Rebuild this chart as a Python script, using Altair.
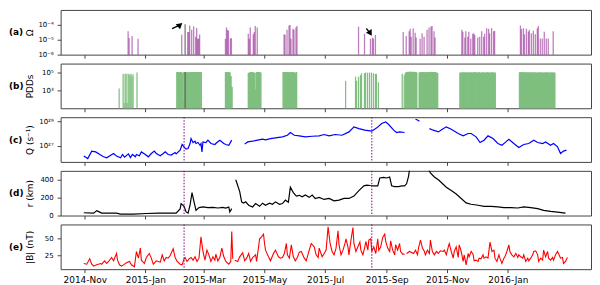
import altair as alt
import pandas as pd

BASE = pd.Timestamp("2014-11-01")   # day 0 of all day offsets below

# ---------------- data (day offset from 2014-11-01, value) ----------------
# (a) Omega
omega = [(43, 3.7e-5), (44, 1.3e-5), (47, 1.8e-5), (53, 1.15e-5),
         (97, 2.2e-5), (103, 3.3e-5), (104, 3.3e-5), (105, 9e-5), (107, 4.6e-5), (109, 7.6e-5),
         (111, 1.6e-5), (112, 6.2e-5), (113, 1.15e-5), (114, 1.2e-5), (115, 2.2e-5),
         (141, 1.15e-5), (142, 6.7e-5), (143, 4.6e-5), (144, 4.2e-5), (146, 1.2e-5), (147, 1.3e-5),
         (164, 2.5e-5), (165, 1.15e-5), (166, 6.7e-5), (169, 2.3e-5), (170, 3.3e-5), (171, 8.2e-5), (173, 6.7e-5),
         (200, 2.3e-5), (201, 2.2e-5), (203, 4.6e-5), (205, 9e-5), (206, 9.6e-5), (207, 1.15e-5),
         (209, 5.5e-5), (210, 4.6e-5), (212, 6.7e-5), (213, 8.2e-5),
         (275, 7.6e-5), (281, 2.5e-5), (287, 1.15e-5), (289, 1.4e-5), (290, 1.2e-5), (292, 2.1e-5),
         (320, 3.3e-5), (323, 1.8e-5), (326, 3.7e-5), (327, 5.5e-5), (328, 1.6e-5), (330, 6e-5),
         (332, 3e-5), (333, 1.4e-5), (337, 1.15e-5), (339, 2.7e-5), (341, 1.6e-5), (344, 4.6e-5),
         (346, 6.7e-5), (348, 7.6e-5), (349, 8.2e-5), (351, 3.7e-5), (352, 1.4e-5),
         (379, 4.6e-5), (380, 3.5e-5), (382, 1.4e-5), (383, 3.7e-5), (385, 1.6e-5), (386, 3.5e-5),
         (388, 1.2e-5), (390, 2.5e-5), (391, 2.7e-5), (392, 2.1e-5), (395, 1.4e-5), (397, 1.6e-5),
         (399, 3.7e-5), (401, 1.6e-5), (402, 2.5e-5), (404, 6e-5), (406, 5.5e-5), (407, 2.7e-5),
         (409, 6e-5), (411, 3.7e-5), (412, 4e-5),
         (438, 9e-5), (439, 5.2e-5), (441, 6e-5), (442, 2.3e-5), (444, 5.5e-5), (446, 3.5e-5),
         (447, 4.6e-5), (449, 2.7e-5), (451, 4e-5), (453, 2.3e-5), (455, 6e-5), (456, 8.2e-5),
         (458, 1.2e-5), (460, 1.2e-5), (462, 3.5e-5), (464, 1.2e-5), (466, 1.2e-5), (471, 3.7e-5)]

# (b) PDDs, log10 values
pdd_single = [(34, 3.2), (38, 4.85), (39, 1.6), (40, 4.85), (41, 4.85), (42, 1.6), (43, 4.85),
              (44, 4.8), (45, 4.7), (46, 4.85), (47, 4.55), (48, 4.8), (52, 5.0),
              (262, 4.07), (272, 4.54), (273, 4.07), (275, 4.54), (277, 4.7), (278, 4.92),
              (281, 4.92), (282, 4.99), (284, 4.99), (286, 4.99), (288, 4.99), (290, 4.92),
              (292, 4.85), (293, 4.85), (295, 3.9), (319, 4.85), (321, 4.7)]
pdd_blocks = [
    (92, [5.05, 5.05, 4.98, 5.05, 5.05, 4.98, 1.9, 5.05, 5.05, 5.05, 4.9, 5.05, 4.95,
          5.05, 5.0, 5.05, 5.05, 5.0, 5.05, 5.05, 5.05, 5.0, 5.05, 5.05, 5.05]),
    (141, [5.05, 5.05, 5.0, 5.05, 5.0, 4.6, 3.4]),
    (164, [4.95, 5.0, 5.05, 5.05, 5.05, 5.0, 4.95, 3.1, 5.05, 5.05, 5.05, 5.05, 5.0]),
    (199, [5.05, 5.05, 5.03, 5.05, 5.05, 5.05, 5.02, 5.05, 5.05, 5.05, 5.05, 5.0, 4.9, 5.05]),
    (322, [4.95, 5.05, 5.08, 5.05, 5.08, 5.1, 5.05, 5.08, 5.05, 5.08, 5.05, 5.02]),
    (336, [5.0, 5.05, 5.03, 5.05, 5.05, 5.02, 5.05, 5.0, 5.05, 5.05, 5.03, 5.05, 5.08,
           5.05, 5.03, 5.05, 5.05, 5.0, 4.95]),
    (377, [5.0, 4.97, 5.02, 5.0, 5.03, 4.98, 5.0, 5.02, 4.97, 5.0, 5.03, 5.0, 4.98, 5.02,
           5.0, 5.04, 5.0, 4.98, 5.0, 5.02, 5.0, 4.97, 5.0, 5.02, 5.0, 5.0, 4.98, 5.02,
           5.0, 5.0, 4.97, 5.0, 5.02, 5.0, 4.98, 5.0]),
    (437, [5.03, 5.05, 5.02, 5.03, 5.0, 5.03, 5.02, 5.0, 5.03, 5.02, 5.0, 5.0, 5.02, 5.0,
           5.0, 5.02, 5.0, 4.98, 5.0, 5.0, 5.02, 5.0, 5.0, 4.98, 5.0, 5.0, 5.0, 5.02,
           5.0, 4.98, 5.0, 5.0, 5.0, 5.0, 4.98, 5.0]),
]

# (c) Q, log10 values, segments
q_segments = [
    [(-1, 26.17), (3, 25.97), (7, 26.57), (11, 26.51), (16, 26.25), (19, 26.11), (22, 26.03),
     (29, 26.38), (32, 26.17), (36, 26.03), (38, 26.30), (40, 26.08), (44, 26.35), (46, 26.05),
     (48, 26.30), (51, 26.11), (52, 26.30), (55, 26.19), (57, 26.51), (61, 26.30), (64, 26.11),
     (67, 26.38), (70, 26.57), (72, 26.38), (76, 26.19), (79, 26.38), (81, 26.51), (84, 26.30),
     (87, 26.25), (91, 26.46), (92, 26.35), (96, 26.65), (98, 27.11), (100, 26.92), (102, 26.73),
     (104, 26.78), (106, 27.19), (107, 27.59), (109, 27.27), (111, 27.38), (112, 27.19),
     (114, 27.27), (116, 27.05), (117, 27.19), (118, 26.51), (119, 27.32), (122, 27.27),
     (124, 27.46), (127, 27.19), (131, 27.11), (133, 27.27), (136, 27.46), (140, 27.19),
     (142, 27.11), (145, 27.05), (148, 27.46)],
    [(161, 27.14), (164, 27.32), (169, 27.38), (174, 27.46), (179, 27.54), (182, 27.49),
     (187, 27.59), (192, 27.65), (199, 27.73), (204, 27.86), (207, 28.08), (211, 27.86),
     (216, 27.81), (222, 27.73), (229, 27.78), (236, 27.81), (241, 27.92), (246, 27.81),
     (252, 27.92), (259, 27.86), (266, 28.13), (271, 28.54), (276, 28.40), (282, 28.27),
     (289, 28.19), (294, 28.46), (299, 28.81), (303, 28.94), (306, 28.73), (311, 28.27),
     (314, 28.08), (317, 28.13), (322, 28.08)],
    [(333, 29.16), (335, 29.1), (337, 29.0)],
    [(347, 28.40), (351, 28.27), (356, 28.13), (360, 28.35), (364, 28.54), (369, 28.35),
     (376, 28.0), (381, 27.81), (386, 28.0), (389, 28.0), (394, 27.73), (398, 27.27),
     (402, 27.46), (406, 27.81), (411, 27.59), (416, 27.19), (420, 27.05), (424, 27.32),
     (427, 27.54), (432, 27.19), (437, 26.86), (442, 27.11), (447, 27.19), (452, 27.46),
     (456, 27.27), (461, 27.19), (464, 27.32), (469, 27.05), (472, 27.19), (476, 26.92),
     (479, 26.38), (482, 26.57), (485, 26.65)],
]

# (d) r (km), segments
r_segments = [
    [(-1, 31), (9, 27), (12, 55), (14, 44), (17, 27), (32, 27), (36, 16), (49, 16), (62, 23),
     (74, 27), (76, 27), (92, 27), (96, 73), (97, 134), (100, 103), (102, 40), (104, 27),
     (106, 115), (108, 256), (110, 153), (112, 57), (115, 88), (119, 96), (124, 88), (129, 92),
     (134, 84), (139, 92), (142, 84), (145, 96), (146, 40), (148, 77)],
    [(152, 400), (153, 370), (156, 267), (158, 150), (160, 140), (162, 153), (165, 115),
     (169, 96), (172, 134), (176, 103), (179, 138), (182, 115), (186, 138), (189, 126),
     (192, 153), (196, 126), (199, 134), (202, 172), (205, 150), (207, 318), (210, 256),
     (213, 218), (216, 226), (219, 210), (222, 229), (226, 203), (229, 229), (232, 191),
     (236, 203), (241, 180), (246, 191), (251, 164), (256, 172), (261, 191), (266, 191),
     (271, 218), (276, 279), (281, 332), (284, 340), (287, 336), (291, 332), (295, 332),
     (297, 420), (301, 427), (304, 420), (307, 431), (309, 332), (312, 324), (316, 324),
     (319, 332), (322, 332), (324, 355), (326, 439), (327, 515), (330, 650), (340, 700),
     (346, 520), (348, 477), (352, 431), (356, 400), (359, 370), (364, 317), (369, 279),
     (374, 240), (379, 191), (384, 141), (389, 126), (396, 115), (402, 103), (409, 103),
     (416, 96), (422, 88), (429, 88), (436, 84), (442, 96), (449, 88), (456, 77), (462, 57),
     (469, 46), (476, 38), (484, 27)],
]

# (e) |B| (nT), segments
b_segments = [
    [(-1, 13), (2, 12), (5, 20), (7, 12), (9, 9), (12, 11), (16, 13), (17, 12), (20, 17),
     (22, 13), (24, 16), (27, 22), (29, 17), (32, 28), (33, 18), (35, 11), (37, 9), (40, 12),
     (42, 14), (45, 16), (47, 11), (50, 8), (52, 31), (54, 21), (56, 36), (57, 18), (60, 13),
     (62, 22), (65, 28), (67, 21), (69, 12), (72, 17), (74, 16), (76, 15), (78, 26), (80, 17),
     (82, 22), (84, 21), (86, 25), (89, 35), (91, 22), (93, 16), (96, 12), (98, 11), (100, 20),
     (101, 22), (103, 16), (105, 20), (107, 22), (109, 18), (111, 23), (113, 16), (115, 21),
     (117, 53), (119, 31), (121, 18), (123, 33), (125, 26), (127, 16), (129, 23), (131, 18),
     (132, 27), (134, 17), (136, 22), (138, 36), (140, 23), (142, 16), (145, 12), (147, 16),
     (148, 61), (149, 20)],
    [(151, 18), (154, 16), (156, 23), (159, 29), (161, 17), (163, 21), (165, 28), (167, 16),
     (169, 22), (172, 26), (173, 16), (175, 38), (176, 50), (178, 53), (180, 57), (181, 43),
     (182, 33), (185, 23), (187, 17), (190, 28), (192, 33), (195, 23), (197, 21), (199, 22),
     (201, 28), (203, 43), (204, 26), (206, 21), (208, 41), (210, 23), (212, 17), (214, 22),
     (216, 30), (218, 31), (221, 21), (223, 17), (226, 33), (228, 43), (231, 38), (233, 26),
     (235, 22), (236, 36), (239, 23), (241, 28), (243, 33), (245, 68), (247, 43), (249, 31),
     (251, 26), (253, 36), (255, 62), (256, 41), (258, 26), (260, 33), (262, 43), (263, 50),
     (265, 38), (266, 26), (268, 48), (270, 67), (271, 43), (273, 31), (275, 38), (277, 45),
     (278, 33), (280, 26), (282, 38), (283, 46), (285, 33), (286, 48), (288, 50), (289, 31),
     (291, 38), (293, 28), (295, 50), (296, 33), (298, 38), (300, 52), (302, 57), (303, 46),
     (305, 36), (307, 31), (308, 47), (310, 33), (312, 26), (313, 41), (315, 33), (317, 43),
     (318, 31), (320, 27), (322, 27)],
    [(324, 28), (327, 31), (331, 28), (333, 33), (335, 26), (336, 36), (338, 48), (340, 36),
     (342, 31), (343, 26), (345, 33), (347, 28), (348, 48), (350, 31), (352, 26), (354, 31),
     (356, 28), (358, 32), (361, 31), (362, 33), (364, 26), (366, 38), (367, 43), (369, 31),
     (371, 21), (372, 31), (374, 38), (376, 22), (377, 41), (379, 31), (381, 16), (382, 26),
     (384, 11), (386, 28), (387, 23), (389, 31), (391, 27), (392, 17), (394, 18), (396, 16),
     (397, 21), (399, 20), (401, 26), (402, 21), (404, 23), (406, 21), (407, 33), (408, 45),
     (410, 31), (412, 33), (413, 21), (415, 16), (417, 26), (418, 21), (420, 13), (422, 21),
     (423, 23), (425, 31), (427, 41), (428, 31), (430, 26), (432, 23), (434, 28), (436, 22),
     (437, 26), (439, 23), (441, 21), (442, 26), (444, 16), (446, 21), (447, 17), (449, 21),
     (451, 26), (452, 31), (454, 32), (456, 26), (457, 16), (459, 21), (461, 18), (462, 33),
     (464, 23), (466, 31), (467, 21), (469, 18), (471, 22), (472, 18), (474, 26), (476, 31),
     (477, 28), (479, 21), (481, 22), (482, 13), (484, 16), (486, 22)],
]

# annotations
event_days = [100, 289]          # dotted vertical lines
gray_day = 101                   # gray line in (a) and (b)
arrow_tail = [(88, 5.5e-5), (283.5, 5.7e-5)]
arrow_head = [(96, 1.0e-4), (287.5, 2.7e-5)]
arrow_angle = [50, 148]

months = [(2014, 11), (2014, 12), (2015, 1), (2015, 2), (2015, 3), (2015, 4), (2015, 5),
          (2015, 6), (2015, 7), (2015, 8), (2015, 9), (2015, 10), (2015, 11), (2015, 12),
          (2016, 1), (2016, 2)]
panel_tags = ["(a)", "(b)", "(c)", "(d)", "(e)"]

# ---------------- helpers ----------------
def day_to_date(days):
    return BASE + pd.to_timedelta(list(days), unit="D")


def frame(pairs, seg=0, log=False, span=1.0):
    d = day_to_date([p[0] for p in pairs])
    v = [10 ** p[1] if log else p[1] for p in pairs]
    return pd.DataFrame({"date": d, "end": d + pd.Timedelta(days=span), "v": v, "seg": seg})


W, H = 534, 45
FONT = "DejaVu Sans"
xscale = alt.Scale(domain=[alt.DateTime(year=2014, month=10, date=7, hours=17),
                           alt.DateTime(year=2016, month=3, date=24, hours=17)])
tick_vals = [alt.DateTime(year=y, month=m, date=1) for y, m in months]


def xaxis(labels):
    if labels:
        return alt.Axis(values=tick_vals, title=None, grid=False, domain=False,
                        labelExpr="month(datum.value) % 2 == 0 ? timeFormat(datum.value, '%Y-%b') : ''",
                        labelFontSize=9, labelPadding=3, labelFlush=False, labelOverlap=False)
    return alt.Axis(values=tick_vals, title=None, grid=False, domain=False, labels=False)


def yaxis(title, values, expr=None):
    kw = dict(title=title, values=values, grid=False, domain=False, titleX=-31,
              titleBaseline="middle", titleAngle=270)
    if expr:
        kw["labelExpr"] = expr
    return alt.Axis(**kw)


def tag(i):
    return alt.Chart(pd.DataFrame({"t": [panel_tags[i]]})).mark_text(
        align="left", baseline="middle", fontWeight="bold", fontSize=9, font=FONT
    ).encode(text="t:N", x=alt.value(-52), y=alt.value(H / 2))


ev_df = pd.DataFrame({"date": day_to_date(event_days)})


def events():
    return alt.Chart(ev_df).mark_rule(color="purple", strokeDash=[1.5, 1.5], strokeWidth=1).encode(
        x=alt.X("date:T", scale=xscale))


# ---------------- (a) ----------------
a_scale = alt.Scale(type="log", domain=[1e-6, 2e-4])
df_a = frame(omega, span=1.3)
bars_a = alt.Chart(df_a).mark_bar(color="purple", opacity=0.5).encode(
    x=alt.X("date:T", scale=xscale, axis=xaxis(False)), x2="end:T",
    y=alt.Y("v:Q", scale=a_scale,
            axis=yaxis("Ω", [1e-6, 1e-5, 1e-4],
                       "datum.value < 5e-6 ? '10⁻⁶' : datum.value < 5e-5 ? '10⁻⁵' : '10⁻⁴'")),
    y2=alt.datum(1e-6))
gray_a = alt.Chart(pd.DataFrame({"date": day_to_date([gray_day]), "v": [1.1e-4]})).mark_rule(
    color="#555555", strokeWidth=1).encode(x="date:T", y="v:Q", y2=alt.datum(1e-6))
arr_df = pd.DataFrame({
    "date": day_to_date([t[0] for t in arrow_tail]), "v": [t[1] for t in arrow_tail],
    "date2": day_to_date([h[0] for h in arrow_head]), "v2": [h[1] for h in arrow_head],
    "ang": arrow_angle})
arr_line = alt.Chart(arr_df).mark_rule(color="black", strokeWidth=1.3).encode(
    x="date:T", x2="date2", y="v:Q", y2="v2")
arr_head = alt.Chart(arr_df).mark_point(shape="triangle-up", filled=True, color="black",
                                        opacity=1, size=45).encode(
    x="date2:T", y="v2:Q", angle=alt.Angle("ang:Q", scale=None))
panel_a = alt.layer(bars_a, gray_a, arr_line, arr_head, tag(0)).properties(width=W, height=H)

# ---------------- (b) ----------------
blk_pairs = []
for start, vals in pdd_blocks:
    blk_pairs += [(start + i, v) for i, v in enumerate(vals)]
df_b = pd.concat([frame(pdd_single, log=True, span=1.25),
                  frame(blk_pairs, log=True, span=2.0)])
b_scale = alt.Scale(type="log", domain=[10, 1.6e5])
bars_b = alt.Chart(df_b).mark_bar(color="#7fbf7f", opacity=1, strokeWidth=0).encode(
    x=alt.X("date:T", scale=xscale, axis=xaxis(False)), x2="end:T",
    y=alt.Y("v:Q", scale=b_scale,
            axis=yaxis("PDDs", [1e3, 1e5], "datum.value < 1e4 ? '10³' : '10⁵'")),
    y2=alt.datum(10))
gray_b = alt.Chart(pd.DataFrame({"date": day_to_date([gray_day]), "v": [1.15e5]})).mark_rule(
    color="#555555", strokeWidth=1).encode(x="date:T", y="v:Q", y2=alt.datum(10))
panel_b = alt.layer(bars_b, gray_b, tag(1)).properties(width=W, height=H)

# ---------------- (c) ----------------
df_c = pd.concat([frame(s, i, log=True) for i, s in enumerate(q_segments)])
line_c = alt.Chart(df_c).mark_line(color="blue", strokeWidth=1.2).encode(
    x=alt.X("date:T", scale=xscale, axis=xaxis(False)),
    y=alt.Y("v:Q", scale=alt.Scale(type="log", domain=[5e25, 2.1e29]),
            axis=yaxis("Q (s⁻¹)", [1e27, 1e29], "datum.value < 1e28 ? '10²⁷' : '10²⁹'")),
    detail="seg:N")
panel_c = alt.layer(line_c, events(), tag(2)).properties(width=W, height=H)

# ---------------- (d) ----------------
df_d = pd.concat([frame(s, i) for i, s in enumerate(r_segments)])
line_d = alt.Chart(df_d).mark_line(color="black", strokeWidth=1.2, clip=True).encode(
    x=alt.X("date:T", scale=xscale, axis=xaxis(False)),
    y=alt.Y("v:Q", scale=alt.Scale(domain=[0, 500], nice=False, zero=False),
            axis=yaxis("r (km)", [0, 200, 400])),
    detail="seg:N")
panel_d = alt.layer(line_d, events(), tag(3)).properties(width=W, height=H)

# ---------------- (e) ----------------
df_e = pd.concat([frame(s, i) for i, s in enumerate(b_segments)])
line_e = alt.Chart(df_e).mark_line(color="red", strokeWidth=1.1).encode(
    x=alt.X("date:T", scale=xscale, axis=xaxis(True)),
    y=alt.Y("v:Q", scale=alt.Scale(domain=[4.5, 71.5], nice=False, zero=False),
            axis=yaxis("|B| (nT)", [25, 50])),
    detail="seg:N")
panel_e = alt.layer(line_e, events(), tag(4)).properties(width=W, height=H)

chart = alt.vconcat(panel_a, panel_b, panel_c, panel_d, panel_e, spacing=9, bounds="flush",
                    padding=0).configure_view(
    stroke="#444444", strokeWidth=1
).configure_axis(
    labelFont=FONT, titleFont=FONT, labelFontSize=7, titleFontSize=9, titleFontWeight="normal",
    labelColor="black", titleColor="black", tickColor="#444444", tickSize=3.5, labelPadding=4
)

chart.save("out.html", embed_options={"renderer": "svg", "actions": False})
